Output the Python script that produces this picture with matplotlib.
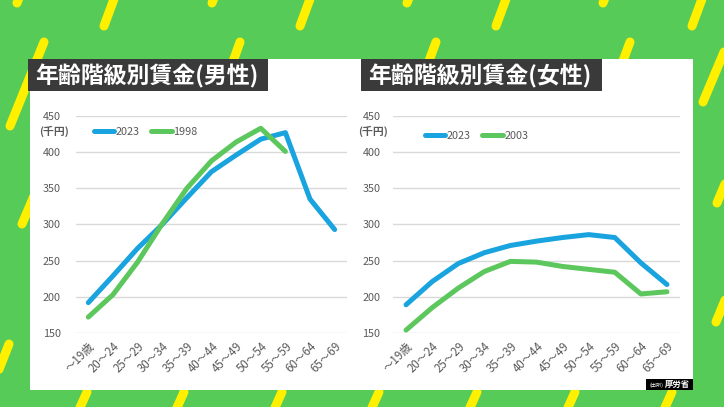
import numpy as np
import matplotlib.pyplot as plt
from matplotlib.patches import Rectangle
from matplotlib.lines import Line2D

plt.rcParams['font.family'] = ['Noto Sans CJK JP', 'DejaVu Sans']

# data (千円)
ages = ['～19歳', '20～24', '25～29', '30～34', '35～39', '40～44',
        '45～49', '50～54', '55～59', '60～64', '65～69']
male_2023 = [192, 229, 267, 300, 337, 373, 396, 418, 427, 335, 293]
male_1998 = [172, 203, 248, 301, 350, 388, 414, 433, 401]
female_2023 = [189, 221, 246, 261, 271, 277, 282, 286, 282, 247, 217]
female_2003 = [154, 185, 212, 235, 249, 248, 242, 238, 234, 204, 207]
yticks = [150, 200, 250, 300, 350, 400, 450]

BG_GREEN = '#57CB57'
YELLOW = '#FFF000'
BLUE = '#19A3DF'
GREEN = '#5CC75C'
GRAY = '#595959'

W, H = 724, 407
fig = plt.figure(figsize=(W / 100, H / 100), dpi=100)
fig.patch.set_facecolor(BG_GREEN)

# background with stripes (pixel coords, y down)
bg = fig.add_axes([0, 0, 1, 1])
bg.set_xlim(0, W)
bg.set_ylim(H, 0)
bg.axis('off')

stripes = [
    ((17, 3), (30, -30)), ((104, 26), (121, -20)), ((212, 3), (225, -30)),
    ((300, 26), (317, -20)), ((407, 3), (420, -30)), ((496, 26), (513, -20)),
    ((603, 3), (616, -30)), ((692, 26), (709, -20)),
    ((10, 126), (44, 42)), ((212, 120), (240, 42)), ((407, 120), (436, 42)),
    ((601, 120), (630, 42)),
    ((703, 102), (724, 52)), ((717, 203), (730, 172)), ((716, 322), (730, 288)),
    ((22, 224), (34, 196)), ((9, 344), (-6, 382)),
    ((78, 412), (87, 392)), ((175, 412), (184, 392)), ((273, 412), (282, 392)),
    ((370, 412), (379, 392)), ((468, 412), (477, 392)), ((566, 412), (575, 392)),
    ((663, 412), (672, 392)),
]
for (x1, y1), (x2, y2) in stripes:
    bg.plot([x1, x2], [y1, y2], color=YELLOW, lw=6.5, solid_capstyle='round',
            zorder=1)

# white panel
bg.add_patch(Rectangle((30, 59), 663, 331, facecolor='white', edgecolor='none',
                       zorder=2))

# title boxes
bg.add_patch(Rectangle((28, 59), 240, 32, facecolor='#3A3A3A', edgecolor='none',
                       zorder=3))
bg.add_patch(Rectangle((361, 59), 241, 32, facecolor='#3A3A3A', edgecolor='none',
                       zorder=3))
bg.text(35, 76, '年齢階級別賃金(男性)', color='white', fontsize=16.5,
        fontweight='bold', va='center', ha='left', zorder=4)
bg.text(368, 76, '年齢階級別賃金(女性)', color='white', fontsize=16.5,
        fontweight='bold', va='center', ha='left', zorder=4)

# source label
bg.add_patch(Rectangle((646, 379), 47, 11, facecolor='black', edgecolor='none',
                       zorder=3))
bg.text(649, 385, '(出所)', color='white', fontsize=3.8, va='center', ha='left',
        zorder=4)
bg.text(665, 385, '厚労省', color='white', fontsize=6, fontweight='bold',
        va='center', ha='left', zorder=4)


def make_chart(rect, s1, s2, lab1, lab2, leg_pos, ylab_pad, unit_x):
    ax = fig.add_axes(rect)
    ax.set_facecolor('none')
    x1 = np.arange(len(s1))
    x2 = np.arange(len(s2))
    ax.plot(x1, s1, color=BLUE, lw=3.6, solid_capstyle='round', zorder=3)
    ax.plot(x2, s2, color=GREEN, lw=3.6, solid_capstyle='round', zorder=3)
    ax.set_xlim(-0.5, len(ages) - 0.5)
    ax.set_ylim(150, 450)
    ax.set_yticks(yticks)
    ax.set_xticks(np.arange(len(ages)))
    ax.set_xticklabels(ages, rotation=45, ha='right', va='top',
                       rotation_mode='anchor', fontsize=8.3, color=GRAY)
    ax.tick_params(axis='y', length=0, pad=ylab_pad, labelsize=7.8, labelcolor=GRAY)
    ax.tick_params(axis='x', length=0, pad=5)
    ax.grid(axis='y', color='#D9D9D9', lw=1)
    ax.set_axisbelow(True)
    for sp in ax.spines.values():
        sp.set_visible(False)
    ax.text(unit_x, 429, '(千円)', transform=ax.get_yaxis_transform(),
            ha='right', va='center', fontsize=7.8, color=GRAY, fontweight='bold')
    handles = [Line2D([], [], color=BLUE, lw=3.6, solid_capstyle='round'),
               Line2D([], [], color=GREEN, lw=3.6, solid_capstyle='round')]
    ax.legend(handles, [lab1, lab2], ncol=2, loc='center left',
              bbox_to_anchor=leg_pos, frameon=False, borderpad=0,
              borderaxespad=0, handlelength=1.9, handletextpad=0.1,
              columnspacing=1.1, prop={'size': 7.8},
              labelcolor=GRAY)
    return ax


make_chart([76 / W, 1 - 333 / H, 271 / W, 217 / H], male_2023, male_1998,
           '2023', '1998', (0.066, 0.926), 11, -0.027)
make_chart([393 / W, 1 - 333 / H, 287 / W, 217 / H], female_2023, female_2003,
           '2023', '2003', (0.111, 0.908), 9, -0.017)

fig.savefig('out.png', dpi=100, facecolor=fig.get_facecolor())
